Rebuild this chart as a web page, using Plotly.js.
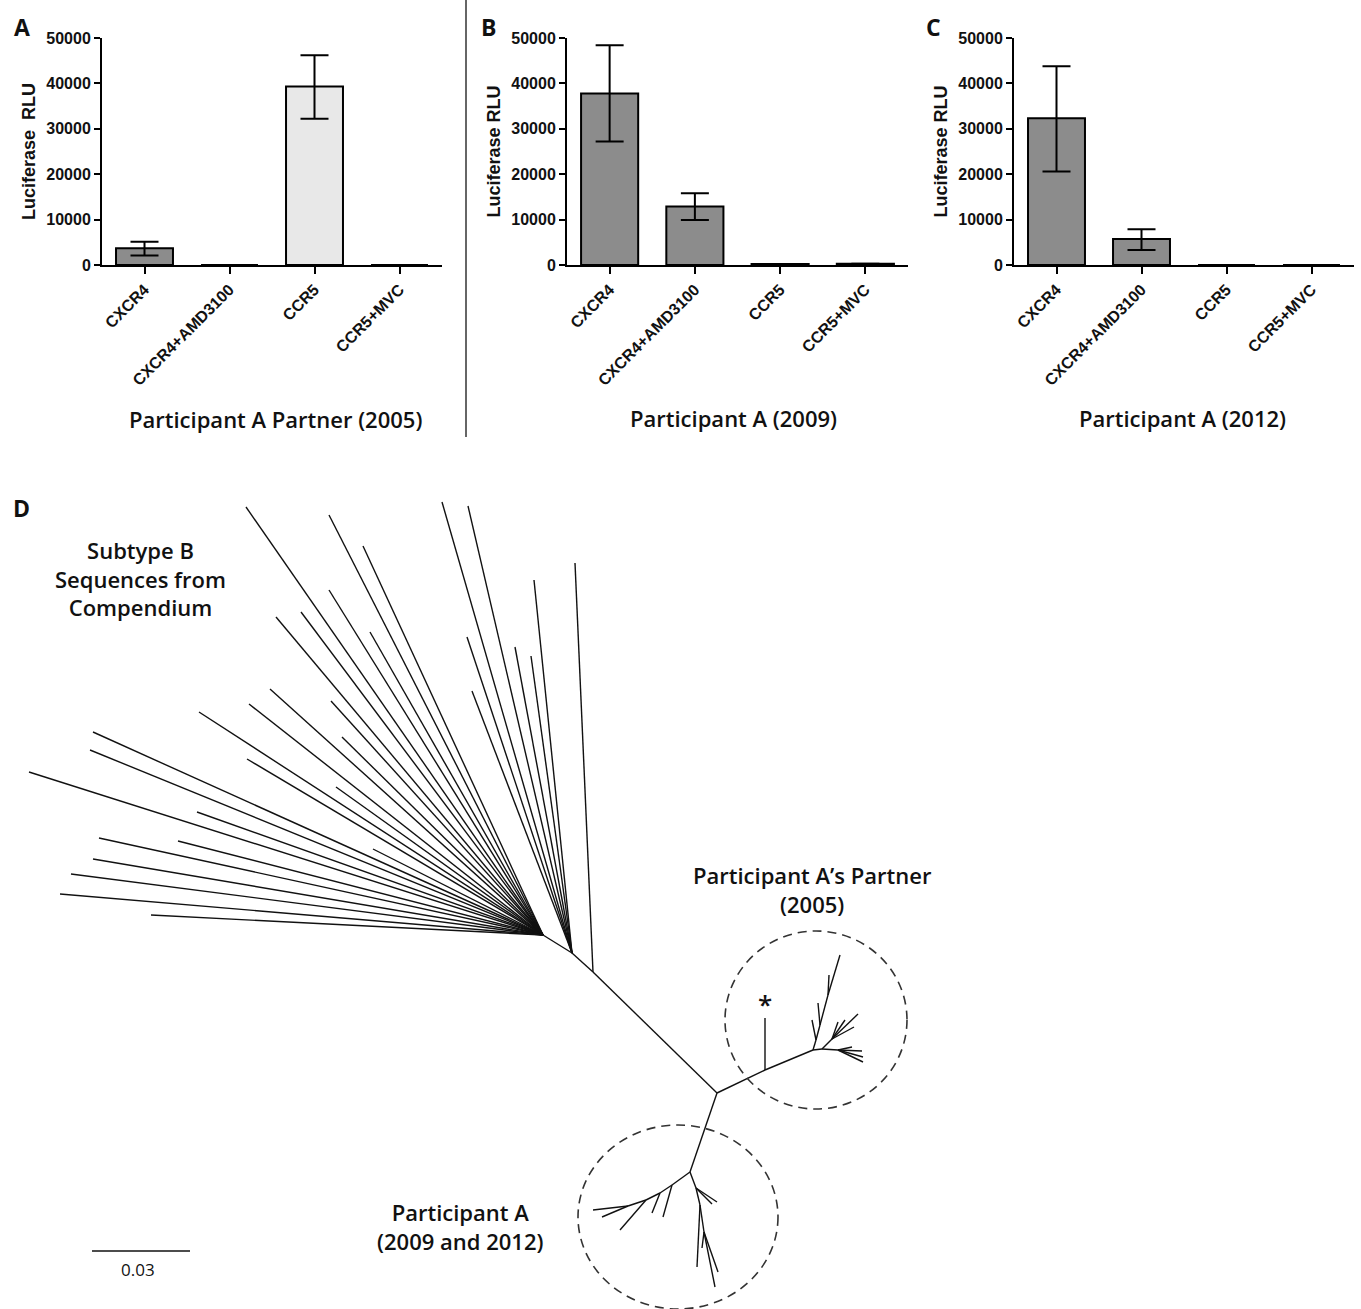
<!DOCTYPE html>
<html>
<head>
<meta charset="utf-8">
<script src="https://cdn.plot.ly/plotly-3.0.1.min.js"></script>
<style>html,body{margin:0;padding:0;background:#fff;}#chart{width:1361px;height:1309px;}</style>
</head>
<body>
<div id="chart"></div>
<script>
// ---------- Data: luciferase assays ----------
const categories = ["CXCR4", "CXCR4+AMD3100", "CCR5", "CCR5+MVC"];

const meanA  = [3700, 0, 39300, 0];
const upperA = [5100, null, 46200, null];
const lowerA = [2100, null, 32200, null];

const meanB  = [37800, 12900, 200, 300];
const upperB = [48400, 15800, null, null];
const lowerB = [27200, 9900, null, null];

const meanC  = [32300, 5700, 0, 0];
const upperC = [43800, 7900, null, null];
const lowerC = [20600, 3300, null, null];

const colorsA = ["#8c8c8c", "#8c8c8c", "#e8e8e8", "#e8e8e8"];
const colorsB = ["#8c8c8c", "#8c8c8c", "#8c8c8c", "#8c8c8c"];
const colorsC = ["#8c8c8c", "#8c8c8c", "#8c8c8c", "#8c8c8c"];

const yTicks = [0, 10000, 20000, 30000, 40000, 50000];
const yTitles = ["Luciferase\u00a0\u00a0RLU", "Luciferase RLU", "Luciferase RLU"];
const panelTitles = ["Participant A Partner (2005)", "Participant A (2009)", "Participant A (2012)"];

// ---------- Data: unrooted tree (layout coordinates of branch ends, parent index) ----------
// internal nodes first
const branchX = [543, 572, 593, 717, 765, 813, 816, 820, 828, 822, 832, 838, 690, 672, 660, 646, 628, 696, 700, 704,
  // subtype B compendium tips (parent 0)
  246, 329, 363, 329, 276, 301, 370, 270, 249, 199, 331, 342, 247, 336, 93, 90, 29, 197, 373, 99, 178, 93, 71, 60, 151,
  // tips to node 1
  442, 468, 534, 467, 515, 531, 472,
  // tip to node 2
  575,
  // partner clade
  765, 812, 818, 829, 840, 858, 854, 845, 838, 863, 862, 863, 852,
  // participant A clade
  593, 602, 620, 652, 663, 717, 712, 697, 715, 718, 702];
const branchY = [935, 953, 972, 1093, 1070, 1050, 1040, 1025, 995, 1049, 1039, 1050, 1172, 1185, 1193, 1200, 1206, 1188, 1205, 1232,
  507, 515, 546, 590, 617, 612, 632, 689, 704, 712, 701, 737, 759, 787, 732, 750, 772, 812, 849, 838, 841, 859, 874, 894, 915,
  502, 506, 580, 637, 647, 656, 691,
  563,
  1018, 1020, 1003, 975, 955, 1014, 1027, 1020, 1022, 1057, 1051, 1062, 1047,
  1210, 1217, 1230, 1213, 1217, 1202, 1204, 1267, 1287, 1272, 1248];
const branchParent = [1, 2, 3, -1, 3, 4, 5, 6, 7, 5, 9, 9, 3, 12, 13, 14, 15, 12, 17, 18,
  0, 0, 0, 0, 0, 0, 0, 0, 0, 0, 0, 0, 0, 0, 0, 0, 0, 0, 0, 0, 0, 0, 0, 0, 0,
  1, 1, 1, 1, 1, 1, 1,
  2,
  4, 6, 7, 8, 8, 10, 10, 10, 10, 11, 11, 11, 11,
  16, 16, 15, 14, 13, 17, 17, 18, 19, 19, 19];

const scaleBarLabel = "0.03";
const scaleBarX = [92, 190];
const scaleBarY = [1251, 1251];

// ---------- Build traces ----------
function diff(a, b) { return a.map((v, i) => (v === null || b[i] === null) ? null : v - b[i]); }

function barTrace(mean, upper, lower, colors, xa, ya) {
  return {
    type: "bar", x: categories, y: mean, xaxis: xa, yaxis: ya, width: 0.67,
    marker: { color: colors, line: { color: "#000", width: 2 } },
    error_y: { type: "data", symmetric: false, array: diff(upper, mean), arrayminus: diff(mean, lower),
      color: "#000", thickness: 2, width: 14 },
    hoverinfo: "skip"
  };
}

const traces = [
  barTrace(meanA, upperA, lowerA, colorsA, "x", "y"),
  barTrace(meanB, upperB, lowerB, colorsB, "x2", "y2"),
  barTrace(meanC, upperC, lowerC, colorsC, "x3", "y3")
];

// divider line inside each assay panel (between CXCR4 and CCR5 conditions)
const dividerX = 1.53, dividerTop = 48800;
[["x", "y"], ["x2", "y2"], ["x3", "y3"]].forEach(([xa, ya]) => {
  traces.push({ type: "scatter", mode: "lines", x: [dividerX, dividerX], y: [0, dividerTop],
    xaxis: xa, yaxis: ya, line: { color: "#000", width: 2 }, hoverinfo: "skip" });
});

// tree branches
const tx = [], ty = [];
for (let i = 0; i < branchX.length; i++) {
  const p = branchParent[i];
  if (p < 0) continue;
  tx.push(branchX[p], branchX[i], null);
  ty.push(branchY[p], branchY[i], null);
}
traces.push({ type: "scatter", mode: "lines", x: tx, y: ty, xaxis: "x4", yaxis: "y4",
  line: { color: "#111", width: 1.4 }, hoverinfo: "skip" });
traces.push({ type: "scatter", mode: "lines", x: scaleBarX, y: scaleBarY, xaxis: "x4", yaxis: "y4",
  line: { color: "#111", width: 1.4 }, hoverinfo: "skip" });

// ---------- Layout ----------
const W = 1361, H = 1309;
const px = v => v / W, py = v => 1 - v / H;
const tickFont = { family: "Liberation Sans, Arial, sans-serif", size: 16, color: "#111", weight: "bold" };

function xAxis(l, r, anchor) {
  return { domain: [px(l), px(r)], anchor: anchor, range: [-0.5, 3.5], type: "category",
    showline: true, linecolor: "#000", linewidth: 2, ticks: "outside", ticklen: 7, tickwidth: 2, tickcolor: "#000",
    tickangle: -45, tickfont: tickFont, showgrid: false, zeroline: false, fixedrange: true };
}
function yAxis(anchor, title) {
  return { domain: [py(265), py(38)], anchor: anchor, range: [0, 50000], tickvals: yTicks, tickformat: "d",
    showline: true, linecolor: "#000", linewidth: 2, ticks: "outside", ticklen: 6, tickwidth: 2, tickcolor: "#000",
    tickfont: tickFont, showgrid: false, zeroline: false, fixedrange: true,
    title: { text: title, font: { family: "Liberation Sans, Arial, sans-serif", size: 18, color: "#111", weight: "bold" }, standoff: 6 } };
}

const labelFont = { family: "Open Sans, sans-serif", size: 22, color: "#111", weight: 600 };
const letterFont = { family: "Open Sans, sans-serif", size: 23, color: "#111", weight: 700 };
function ann(x, y, text, font, extra) {
  return Object.assign({ x: x, y: y, xref: "x4", yref: "y4", text: text, showarrow: false, font: font,
    xanchor: "center", yanchor: "middle" }, extra || {});
}

const layout = {
  width: W, height: H, margin: { l: 0, r: 0, t: 0, b: 0 },
  paper_bgcolor: "#fff", plot_bgcolor: "rgba(0,0,0,0)", showlegend: false, bargap: 0.33,
  xaxis: xAxis(102, 442, "y"), yaxis: yAxis("x", yTitles[0]),
  xaxis2: xAxis(567, 908, "y2"), yaxis2: yAxis("x2", yTitles[1]),
  xaxis3: xAxis(1014, 1354, "y3"), yaxis3: yAxis("x3", yTitles[2]),
  xaxis4: { domain: [0, 1], anchor: "y4", range: [0, W], visible: false, fixedrange: true },
  yaxis4: { domain: [0, 1], anchor: "x4", range: [H, 0], visible: false, fixedrange: true },
  shapes: [
    { type: "line", xref: "x4", yref: "y4", x0: 466, x1: 466, y0: 0, y1: 437, line: { color: "#333", width: 1.5 } },
    { type: "circle", xref: "x4", yref: "y4", x0: 725, x1: 907, y0: 931, y1: 1109, line: { color: "#333", width: 1.6, dash: "9px,6px" } },
    { type: "circle", xref: "x4", yref: "y4", x0: 578, x1: 778, y0: 1125, y1: 1309, line: { color: "#333", width: 1.6, dash: "9px,6px" } }
  ],
  annotations: [
    ann(22, 27, "A", letterFont),
    ann(488, 27, "B", letterFont),
    ann(933, 27, "C", letterFont),
    ann(21, 508, "D", letterFont),
    ann(275, 419, panelTitles[0], labelFont),
    ann(733, 418, panelTitles[1], labelFont),
    ann(1182, 418, panelTitles[2], labelFont),
    ann(140, 578, "Subtype B<br>Sequences from<br>Compendium", labelFont),
    ann(812, 889, "Participant A\u2019s Partner<br>(2005)", labelFont),
    ann(460, 1226, "Participant A<br>(2009 and 2012)", labelFont),
    ann(765, 1004, "*", { family: "Open Sans, sans-serif", size: 26, color: "#111", weight: 600 }),
    ann(138, 1269, scaleBarLabel, { family: "Open Sans, sans-serif", size: 17, color: "#111" })
  ]
};

Plotly.newPlot("chart", traces, layout, { staticPlot: true, displayModeBar: false });
</script>
</body>
</html>
